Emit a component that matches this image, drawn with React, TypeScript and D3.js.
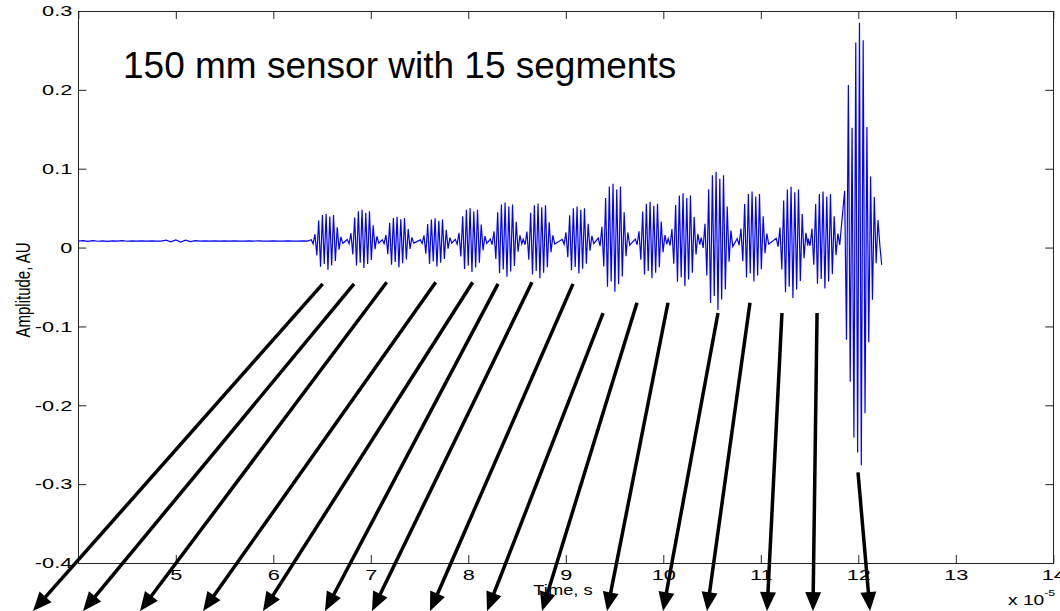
import { useEffect, useRef } from 'react';
import * as d3 from 'd3';

const W = 1060;
const H = 611;

const xTicks = [5, 6, 7, 8, 9, 10, 11, 12, 13, 14];
const yTicks = [-0.4, -0.3, -0.2, -0.1, 0, 0.1, 0.2, 0.3];
const edgeTicks = [4, 5, 6, 7, 8, 9, 10, 11, 12, 13, 14];

// flat baseline before the first segment echo (time in 1e-5 s)
const baseline = 0.0083;
const preStart = 4.0;
const preStep = 0.05;
const preTrigger = [
  0.0082, 0.0088, 0.0079, 0.0087, 0.008, 0.0086, 0.0078, 0.0085, 0.0083, 0.0087,
  0.008, 0.0084, 0.0082, 0.0085, 0.0081, 0.0084, 0.0083, 0.0082, 0.0095, 0.0072,
  0.0098, 0.007, 0.0094, 0.0076, 0.0088, 0.0081, 0.0085, 0.0082, 0.0084, 0.0083,
  0.0085, 0.0081, 0.0084, 0.0083, 0.0082, 0.0085, 0.0083, 0.0084, 0.0082, 0.0083,
  0.0084, 0.0083, 0.0082, 0.0084, 0.0083, 0.0083, 0.0084, 0.0083,
];

// the 15 segment echoes: centre time, highest and lowest swing
const segCenter = [6.551, 6.92, 7.279, 7.669, 8.028, 8.387, 8.725, 9.125, 9.494, 9.874, 10.212, 10.551, 10.92, 11.32, 11.648];
const segHigh = [0.043, 0.048, 0.039, 0.037, 0.05, 0.057, 0.056, 0.052, 0.081, 0.058, 0.069, 0.096, 0.071, 0.077, 0.071];
const segLow = [-0.028, -0.026, -0.025, -0.024, -0.031, -0.037, -0.039, -0.033, -0.056, -0.039, -0.049, -0.079, -0.043, -0.064, -0.052];
// relative swings of one burst, half a cycle apart
const burst = [0.05, -0.1, 0.25, -0.5, 0.75, -0.9, 0.95, -0.8, 1.0, -1.0, 0.9, -0.85, 0.95, -0.7, 0.5, -0.3, 0.15, -0.08];
const halfCycle = 0.019;

// reflection from the sensor end
const endStart = 11.86;
const endStep = 0.019;
const endEcho = [0.072, -0.117, 0.206, -0.17, 0.152, -0.241, 0.26, -0.26, 0.285, -0.276, 0.263, -0.21, 0.153, -0.12, 0.09, -0.066, 0.064, -0.02, 0.035, 0.003, -0.022];

// arrows: start near each echo, end below the axis
const arrowFromT = [6.507, 6.828, 7.163, 7.666, 8.045, 8.305, 8.653, 9.074, 9.382, 9.73, 10.048, 10.561, 10.889, 11.217, 11.577, 11.997];
const arrowFromA = [-0.046, -0.046, -0.044, -0.044, -0.044, -0.046, -0.044, -0.046, -0.083, -0.07, -0.07, -0.083, -0.07, -0.083, -0.083, -0.285];
const arrowToT = [3.535, 4.048, 4.633, 5.279, 5.894, 6.53, 7.012, 7.607, 8.192, 8.756, 9.423, 9.997, 10.448, 11.064, 11.535, 12.12];
const arrowToA = -0.461;

const FONT = '"Liberation Sans", Arial, Helvetica, sans-serif';
// the figure's own texts are drawn wider than they are tall
const STRETCH = 1.45;

export default function App() {
  const ref = useRef<SVGSVGElement>(null);

  useEffect(() => {
    const svg = d3.select(ref.current);
    svg.selectAll('*').remove();

    const x = d3.scaleLinear().domain([4, 14]).range([78.3, 1053.3]);
    const y = d3.scaleLinear().domain([-0.4, 0.3]).range([563, 11]);

    svg.append('rect').attr('width', W).attr('height', H).attr('fill', '#fff');

    // axes, MATLAB style ticks pointing inwards
    const bottom = svg.append('g')
      .attr('transform', `translate(0,${y(-0.4)})`)
      .call(d3.axisBottom(x).tickValues(xTicks).tickSize(-8).tickPadding(6).tickFormat((d) => String(d)));
    const left = svg.append('g')
      .attr('transform', `translate(${x(4)},0)`)
      .call(d3.axisLeft(y).tickValues(yTicks).tickSize(-8).tickPadding(6).tickFormat((d) => String(d)));
    const top = svg.append('g')
      .attr('transform', `translate(0,${y(0.3)})`)
      .call(d3.axisTop(x).tickValues(edgeTicks).tickSize(-8).tickFormat(() => ''));
    const right = svg.append('g')
      .attr('transform', `translate(${x(14)},0)`)
      .call(d3.axisRight(y).tickValues(yTicks).tickSize(-8).tickFormat(() => ''));

    [bottom, left, top, right].forEach((g) => {
      g.select('.domain').remove();
      g.selectAll('line').attr('stroke', '#222');
      g.selectAll('text')
        .attr('font-family', FONT)
        .attr('font-size', 15)
        .attr('fill', '#000')
        .attr('transform', `scale(${STRETCH},1)`);
    });
    left.selectAll('text').attr('x', -6 / STRETCH);

    svg.append('rect')
      .attr('x', Math.round(x(4)) + 0.5)
      .attr('y', Math.round(y(0.3)) + 0.5)
      .attr('width', Math.round(x(14)) - Math.round(x(4)))
      .attr('height', Math.round(y(-0.4)) - Math.round(y(0.3)))
      .attr('fill', 'none')
      .attr('stroke', '#222');

    // signal
    const points: [number, number][] = [];
    preTrigger.forEach((v, i) => points.push([preStart + i * preStep, v]));
    segCenter.forEach((c, k) => {
      burst.forEach((s, i) => {
        const peak = s >= 0 ? segHigh[k] : segLow[k];
        points.push([c + (i - (burst.length - 1) / 2) * halfCycle, baseline + Math.abs(s) * (peak - baseline)]);
      });
    });
    endEcho.forEach((v, i) => points.push([endStart + i * endStep, v]));

    const line = d3.line<[number, number]>().x((d) => x(d[0])).y((d) => y(d[1]));
    svg.append('path')
      .attr('d', line(points))
      .attr('fill', 'none')
      .attr('stroke', '#0000ff')
      .attr('stroke-width', 1.2);

    // labels
    svg.append('text')
      .attr('x', 123).attr('y', 78)
      .attr('font-family', FONT).attr('font-size', 37)
      .text('150 mm sensor with 15 segments');

    svg.append('text')
      .attr('transform', `translate(30,290) rotate(-90) scale(1,1.3)`)
      .attr('text-anchor', 'middle')
      .attr('font-family', FONT).attr('font-size', 15)
      .text('Amplitude, AU');

    svg.append('text')
      .attr('transform', `translate(563,595) scale(1.22,1)`)
      .attr('text-anchor', 'middle')
      .attr('font-family', FONT).attr('font-size', 15)
      .text('Time, s');

    const exp = svg.append('text')
      .attr('transform', `translate(1008,605) scale(1.37,1)`)
      .attr('font-family', FONT).attr('font-size', 14);
    exp.append('tspan').text('x 10');
    exp.append('tspan').attr('dy', -9).attr('font-size', 9).text('-5');

    // arrows
    const arrows = svg.append('g');
    arrowFromT.forEach((t, i) => {
      const x0 = x(t);
      const y0 = y(arrowFromA[i]);
      const x1 = x(arrowToT[i]);
      const y1 = y(arrowToA);
      const len = Math.hypot(x1 - x0, y1 - y0);
      const ux = (x1 - x0) / len;
      const uy = (y1 - y0) / len;
      const headLen = 19;
      const headW = 8;
      const bx = x1 - ux * headLen;
      const by = y1 - uy * headLen;
      arrows.append('line')
        .attr('x1', x0).attr('y1', y0)
        .attr('x2', x1 - ux * (headLen - 3)).attr('y2', y1 - uy * (headLen - 3))
        .attr('stroke', '#000')
        .attr('stroke-width', 3.5);
      arrows.append('path')
        .attr('d', `M${x1},${y1}L${bx - uy * headW},${by + ux * headW}L${bx + uy * headW},${by - ux * headW}Z`)
        .attr('fill', '#000');
    });
  }, []);

  return (
    <svg
      ref={ref}
      width={W}
      height={H}
      style={{ position: 'absolute', left: 0, top: 0, display: 'block' }}
    />
  );
}
